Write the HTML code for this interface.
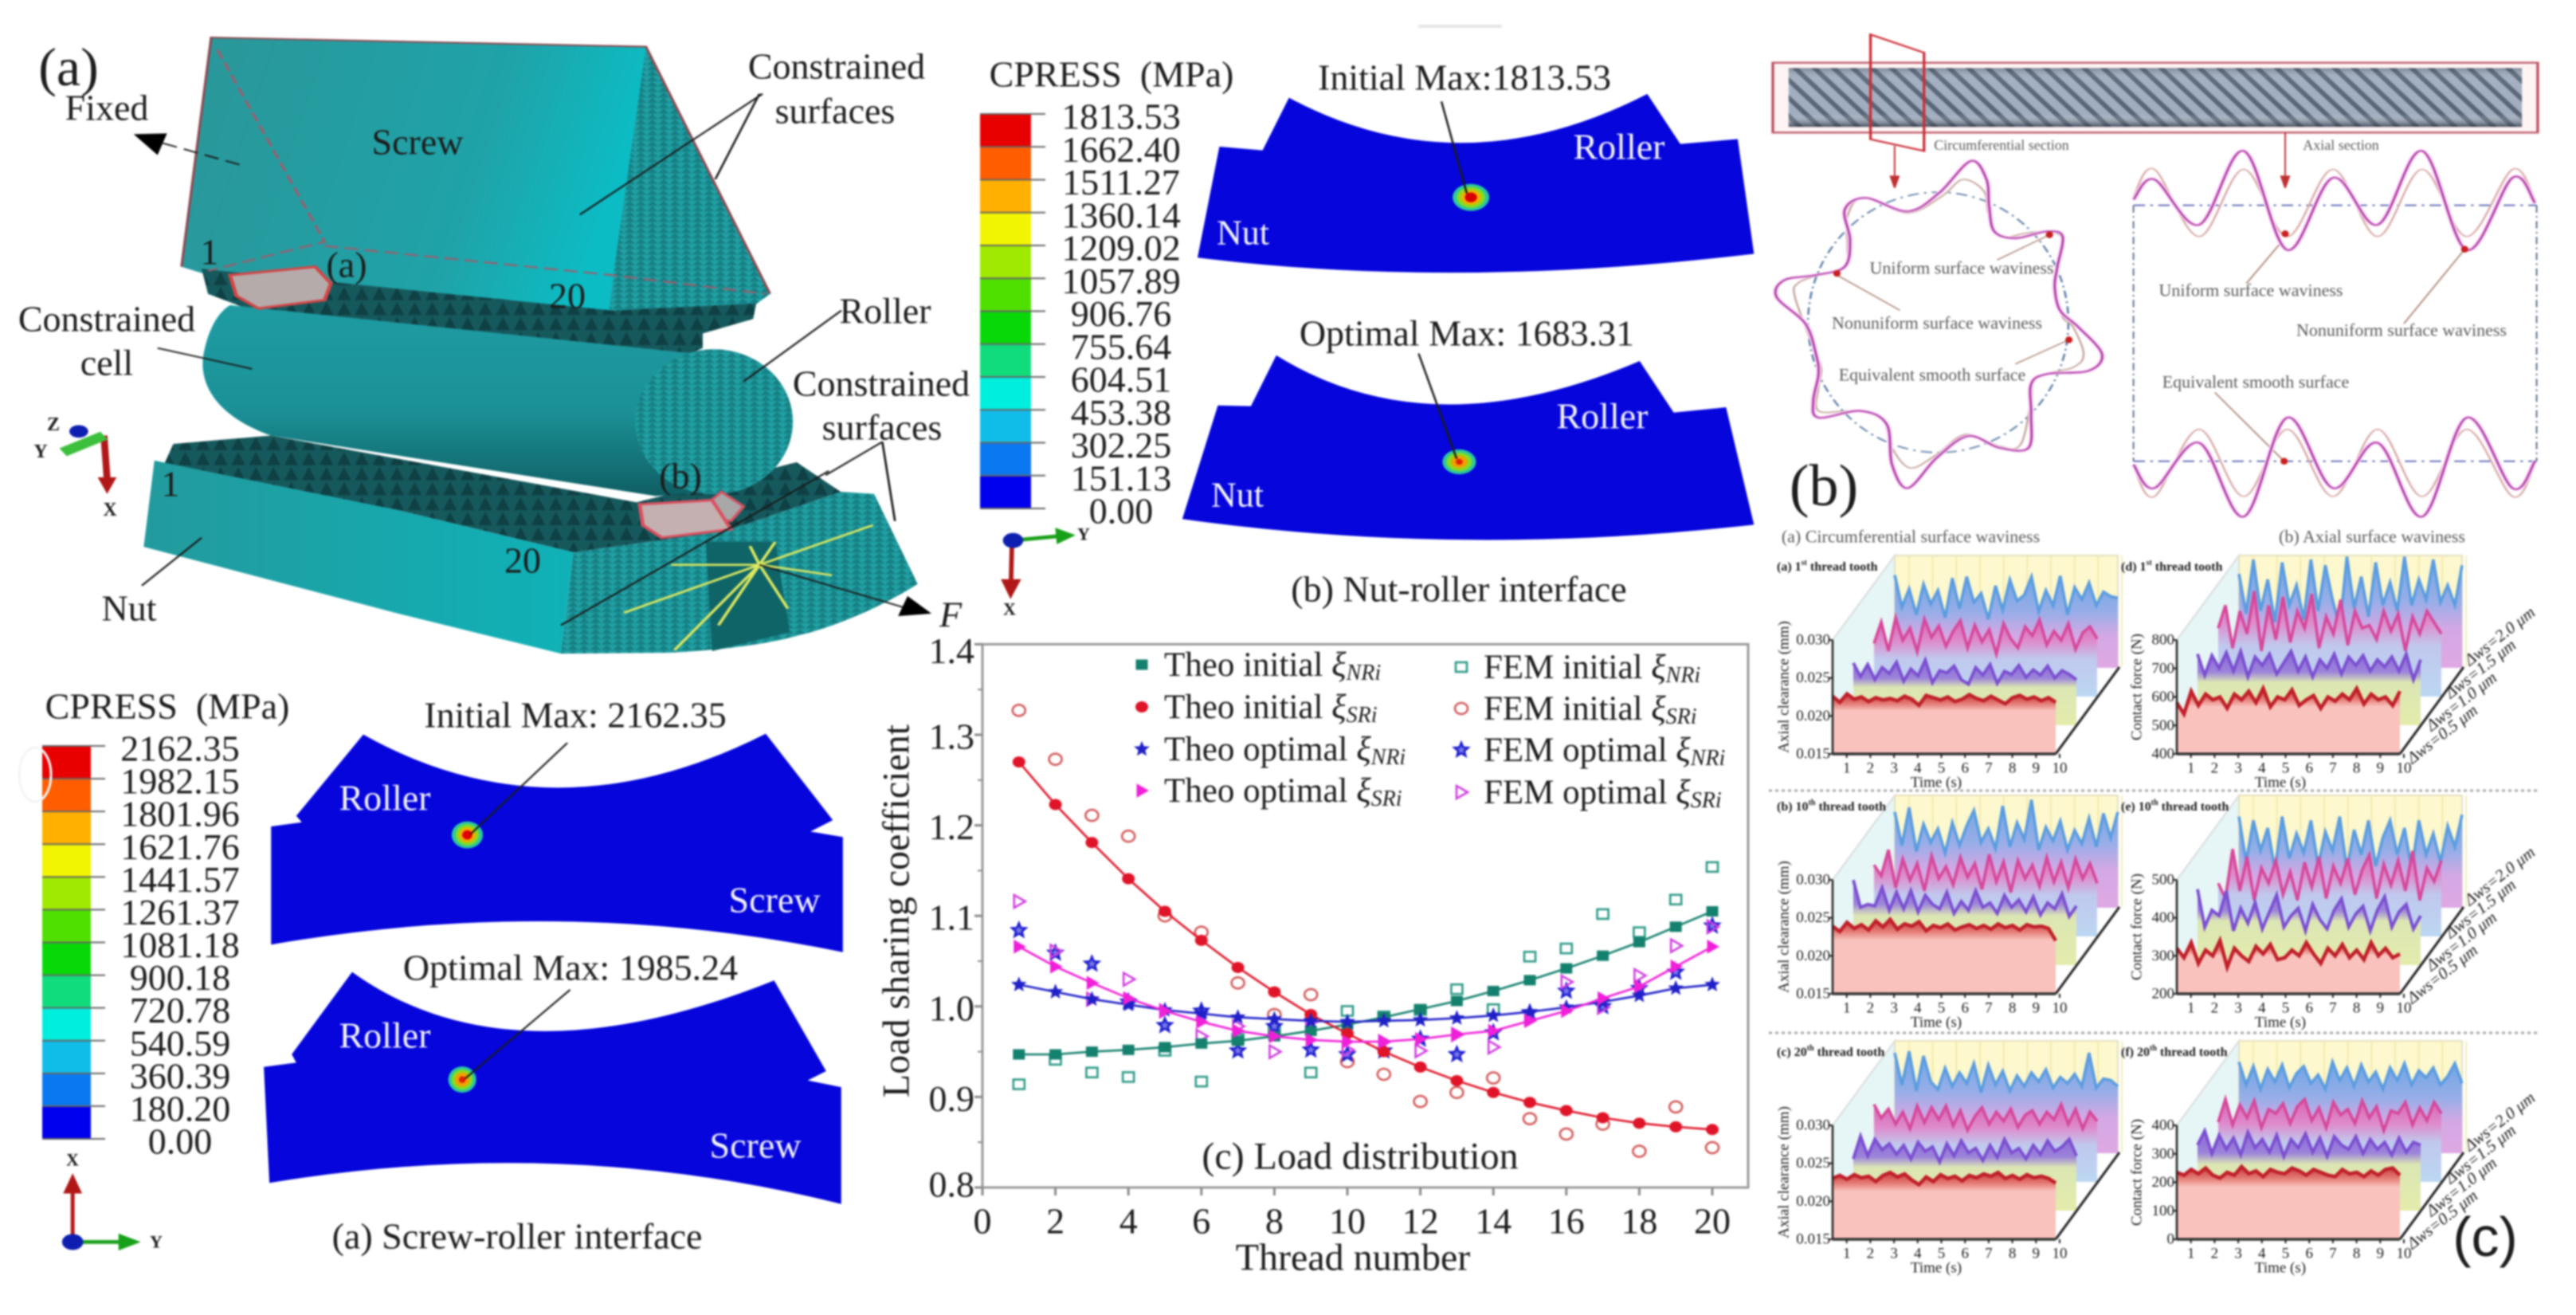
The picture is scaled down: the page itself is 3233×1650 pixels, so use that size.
<!DOCTYPE html>
<html lang="en">
<head>
<meta charset="utf-8">
<title>Roller screw FEM, surface waviness and load distribution</title>
<style>
html,body{margin:0;padding:0;background:#fff;width:3233px;height:1650px;overflow:hidden}
#root{display:block;filter:blur(1.1px);font-family:"Liberation Serif",serif}
text{fill:#1c1c1c}
.c{text-anchor:middle;dominant-baseline:central}
.f46{font-size:46px}
.w{fill:#f4f4ff}
.g{fill:#5a5a5a}
</style>
</head>
<body>
<svg id="root" xmlns="http://www.w3.org/2000/svg" width="3233" height="1650" viewBox="0 0 3233 1650">
<defs>
<linearGradient id="screwFace" x1="0" y1="0" x2="1" y2="0.2"><stop offset="0" stop-color="#2b9699"/><stop offset="0.7" stop-color="#1fa3a8"/><stop offset="1" stop-color="#0cbcc4"/></linearGradient>
<linearGradient id="rollerBody" x1="0" y1="0" x2="0" y2="1"><stop offset="0" stop-color="#1e9ca2"/><stop offset="0.55" stop-color="#1b9197"/><stop offset="1" stop-color="#0f5f64"/></linearGradient>
<linearGradient id="nutFace" x1="0" y1="0" x2="1" y2="0"><stop offset="0" stop-color="#239a9d"/><stop offset="1" stop-color="#0fb2b8"/></linearGradient>
<pattern id="meshTri" width="18" height="26" patternUnits="userSpaceOnUse"><rect width="18" height="26" fill="#21a0a4"/><path d="M0 13L9 0L18 13ZM0 26L9 13L18 26Z" fill="#168084"/></pattern>
<pattern id="teeth" width="28" height="36" patternUnits="userSpaceOnUse"><rect width="28" height="36" fill="#16595d"/><path d="M3 36L14 4L25 36Z" fill="#0e4044"/></pattern>
<pattern id="stripes" width="36.7" height="12" patternUnits="userSpaceOnUse" patternTransform="skewX(34.4)"><rect width="36.7" height="12" fill="#a0adbf"/><rect width="13" height="12" fill="#566476"/></pattern>
<linearGradient id="screwShade" x1="0" y1="0" x2="0" y2="1"><stop offset="0" stop-color="#2c3442" stop-opacity="0.3"/><stop offset="0.2" stop-color="#fff" stop-opacity="0.05"/><stop offset="0.78" stop-color="#fff" stop-opacity="0"/><stop offset="1" stop-color="#1c2432" stop-opacity="0.7"/></linearGradient>
<linearGradient id="layerBlue" x1="0" y1="0" x2="0" y2="1"><stop offset="0" stop-color="#6ea6e4"/><stop offset="0.4" stop-color="#98aee8"/><stop offset="0.65" stop-color="#d4a8e4"/><stop offset="1" stop-color="#dfa8e4"/></linearGradient>
<linearGradient id="layerPink" x1="0" y1="0" x2="0" y2="1"><stop offset="0" stop-color="#da62b4"/><stop offset="0.3" stop-color="#de8ccc"/><stop offset="0.52" stop-color="#c0c8ee"/><stop offset="1" stop-color="#bcd7f2"/></linearGradient>
<linearGradient id="layerPurple" x1="0" y1="0" x2="0" y2="1"><stop offset="0" stop-color="#8a66d8"/><stop offset="0.28" stop-color="#9c84da"/><stop offset="0.42" stop-color="#dce6b4"/><stop offset="1" stop-color="#e4ecac"/></linearGradient>
<linearGradient id="layerRed" x1="0" y1="0" x2="0" y2="1"><stop offset="0" stop-color="#c83a3c"/><stop offset="0.16" stop-color="#e47a74"/><stop offset="0.28" stop-color="#f9c2bd"/><stop offset="1" stop-color="#f9c2bd"/></linearGradient>
</defs>

<!-- (a) FEM assembly drawn in crop coordinates -->
<g transform="scale(0.791,0.523)">
<polygon points="335,90 1025,112 972,770 320,655 288,640" fill="url(#screwFace)"/>
<polygon points="1025,112 1222,705 1195,735 965,765 975,640" fill="url(#meshTri)"/>
<polygon points="320,645 972,745 1200,728 1195,765 1115,800 1115,835 1050,880 860,815 400,745 330,705" fill="url(#teeth)"/>
<polygon points="275,1065 430,1045 1010,1205 1264,1109 1334,1180 1150,1275 910,1325 632,1224 260,1115" fill="url(#teeth)"/>
<path d="M365,732 L1100,848 L1135,1180 L1040,1190 L430,1045 C345,1000 310,920 325,835 C332,790 345,750 365,732Z" fill="url(#rollerBody)"/>
<ellipse cx="1133" cy="1012" rx="125" ry="174" fill="url(#meshTri)"/>
<polygon points="245,1105 632,1224 910,1325 890,1568 632,1472 228,1312" fill="url(#nutFace)"/>
<path d="M910,1325L1150,1275L1334,1180L1387,1185L1456,1401C1390,1465 1310,1510 1270,1523C1210,1550 1120,1562 1060,1566L890,1568Z" fill="url(#meshTri)"/>
<polygon points="1120,1300 1230,1300 1253,1517 1130,1562" fill="#0f6468"/>
<g stroke="#dce860" stroke-width="5" fill="none">
<path d="M1205,1355L1385,1260M1205,1355L1065,1355M1205,1355L1320,1380M1205,1355L990,1470M1205,1355L1070,1560M1205,1355L1140,1500M1205,1355L1250,1460M1205,1355L1230,1300M1205,1355L1190,1310"/>
</g>
<polygon points="365,660 500,640 525,680 515,720 410,740 375,710" fill="#b5abab" stroke="#d44646" stroke-width="6"/>
<polygon points="1120,1210 1145,1180 1180,1215 1160,1250 1135,1245" fill="#a8a8a8" stroke="#d85060" stroke-width="5"/>
<polygon points="1015,1210 1130,1200 1160,1270 1050,1290 1020,1260" fill="#c4b0b0" stroke="#dc5060" stroke-width="6"/>
<path d="M345,120L515,580L330,650M515,590L970,660L1215,705" fill="none" stroke="#a25a6a" stroke-width="4" stroke-dasharray="22 10"/>
<path d="M288,640L335,90L1025,112L1222,705" fill="none" stroke="#8d4a52" stroke-width="4"/>
<g stroke="#1a1a1a" stroke-width="3.5" fill="none">
<path d="M1210,225L920,515M1205,225L1135,430M1335,745L1180,915M1400,1060L1310,1140M1400,1060L1420,1250M1315,1130L890,1500M250,835L400,885M320,1290L225,1405"/>
<path d="M1205,1355L1440,1460"/>
<path d="M380,395L250,340" stroke-dasharray="24 12"/>
</g>
<polygon points="1478,1472 1425,1478 1440,1430" fill="#000"/>
<polygon points="212,322 265,320 250,372" fill="#000"/>
<g>
<path d="M165,1045L170,1150" stroke="#b01818" stroke-width="11"/>
<polygon points="155,1145 185,1145 170,1185" fill="#b01818"/>
<path d="M100,1085L165,1045" stroke="#3cc03c" stroke-width="22"/>
<circle cx="125" cy="1035" r="15" fill="#0e1eb0"/>
</g>
</g>
<g>
<text class="c" x="86" y="84" font-size="68">(a)</text>
<text class="c f46" x="134" y="135">Fixed</text>
<text class="c f46" x="1050" y="83">Constrained</text>
<text class="c f46" x="1048" y="139">surfaces</text>
<text class="c f46" x="524" y="178">Screw</text>
<text class="c f46" x="134" y="400">Constrained</text>
<text class="c f46" x="134" y="455">cell</text>
<text class="c f46" x="1111" y="390">Roller</text>
<text class="c f46" x="1106" y="481">Constrained</text>
<text class="c f46" x="1107" y="536">surfaces</text>
<text class="c f46" x="162" y="763">Nut</text>
<text class="c f46" x="263" y="316">1</text>
<text class="c f46" x="435" y="332">(a)</text>
<text class="c f46" x="712" y="371">20</text>
<text class="c f46" x="214" y="607">1</text>
<text class="c f46" x="854" y="597">(b)</text>
<text class="c f46" x="656" y="703">20</text>
<text class="c f46" x="1193" y="771" font-style="italic">F</text>
<text class="c" x="67" y="533" font-size="24" font-weight="bold">Z</text>
<text class="c" x="51" y="567" font-size="24" font-weight="bold">Y</text>
<text class="c" x="138" y="640" font-size="24" font-weight="bold">X</text>
</g>

<!-- Screw-roller contact pressure -->
<g transform="translate(0,820) scale(0.7015,0.5293)">
<path d="M650,192Q990,445 1370,190L1490,395L1450,422L1508,435L1508,708Q1004,571 485,690L485,410L540,400L530,385Z" fill="#0505dc"/>
<g><ellipse cx="836" cy="430" rx="28" ry="32" fill="#2cc8a0"/><ellipse cx="836" cy="430" rx="21" ry="25" fill="#86dc20"/><ellipse cx="836" cy="430" rx="15" ry="18" fill="#f2b000"/><ellipse cx="836" cy="430" rx="9" ry="11" fill="#e00000"/></g>
<path d="M1015,212L842,428" stroke="#1a1a1a" stroke-width="3.5"/>
<path d="M630,755Q913,1025 1385,775L1478,990L1445,1012L1505,1028L1505,1305Q1007,1140 482,1255L472,980L530,970L522,950Z" fill="#0505dc"/>
<g><ellipse cx="827" cy="1010" rx="25" ry="31" fill="#2cc8a0"/><ellipse cx="827" cy="1010" rx="19" ry="24" fill="#86dc20"/><ellipse cx="827" cy="1010" rx="13" ry="17" fill="#f2a000"/><ellipse cx="827" cy="1010" rx="6" ry="8" fill="#e02000"/></g>
<path d="M1020,797L832,1008" stroke="#1a1a1a" stroke-width="3.5"/>
<g>
<path d="M130,1395L130,1270" stroke="#b01818" stroke-width="7"/><polygon points="113,1280 147,1280 130,1232" fill="#b01818"/>
<path d="M130,1395L220,1395" stroke="#18a018" stroke-width="9"/><polygon points="212,1375 212,1415 252,1395" fill="#18a018"/>
<circle cx="130" cy="1395" r="19" fill="#0e1eb0"/>
</g>
</g>
<g>
<text class="c f46" x="210" y="886" xml:space="preserve">CPRESS  (MPa)</text>
<text class="c f46" x="722" y="897">Initial Max: 2162.35</text>
<text class="c f46 w" x="483" y="1001">Roller</text>
<text class="c f46 w" x="972" y="1129">Screw</text>
<text class="c f46" x="716" y="1214">Optimal Max: 1985.24</text>
<text class="c f46 w" x="483" y="1299">Roller</text>
<text class="c f46 w" x="948" y="1437">Screw</text>
<text class="c f46" x="649" y="1551">(a) Screw-roller interface</text>
<text class="c" x="91" y="1455" font-size="22" font-weight="bold">X</text>
<text class="c" x="196" y="1558" font-size="22" font-weight="bold">Y</text>
</g>

<!-- Nut-roller contact pressure -->
<rect x="1780" y="31" width="105" height="4" fill="#e6e6e6"/>
<g transform="translate(1200,40) scale(0.6378,0.472)">
<path d="M655,175Q993,420 1360,165L1425,298L1538,285L1570,590Q979,685 475,600L518,305L603,315Z" fill="#0505dc"/>
<g><ellipse cx="1013" cy="440" rx="36" ry="36" fill="#2cc8a0"/><ellipse cx="1013" cy="440" rx="28" ry="28" fill="#86dc20"/><ellipse cx="1013" cy="440" rx="20" ry="20" fill="#f2b000"/><ellipse cx="1013" cy="440" rx="12" ry="13" fill="#d80000"/></g>
<path d="M955,185L1005,430" stroke="#1a1a1a" stroke-width="4"/>
<path d="M630,860Q933,1113 1345,875L1412,1012L1515,998L1570,1310Q994,1398 445,1295L515,993L580,995Z" fill="#0505dc"/>
<g><ellipse cx="990" cy="1143" rx="33" ry="33" fill="#2cc8a0"/><ellipse cx="990" cy="1143" rx="25" ry="25" fill="#86dc20"/><ellipse cx="990" cy="1143" rx="16" ry="17" fill="#f2a000"/><ellipse cx="990" cy="1143" rx="7" ry="8" fill="#e02000"/></g>
<path d="M910,855L985,1135" stroke="#1a1a1a" stroke-width="4"/>
<g>
<path d="M112,1352L205,1340" stroke="#18a018" stroke-width="10"/><polygon points="195,1318 198,1362 235,1338" fill="#18a018"/>
<path d="M110,1352L108,1460" stroke="#b01818" stroke-width="9"/><polygon points="88,1455 128,1455 107,1508" fill="#b01818"/>
<circle cx="112" cy="1352" r="20" fill="#0e1eb0"/>
</g>
</g>
<g>
<text class="c f46" x="1395" y="93" xml:space="preserve">CPRESS  (MPa)</text>
<text class="c f46" x="1838" y="97">Initial Max:1813.53</text>
<text class="c f46 w" x="2032" y="184">Roller</text>
<text class="c w" font-size="44" x="1560" y="292">Nut</text>
<text class="c f46" x="1841" y="418">Optimal Max: 1683.31</text>
<text class="c f46 w" x="2011" y="522">Roller</text>
<text class="c w" font-size="44" x="1553" y="621">Nut</text>
<text class="c f46" x="1831" y="739">(b) Nut-roller interface</text>
<text class="c" x="1360" y="670" font-size="22" font-weight="bold">Y</text>
<text class="c" x="1267" y="764" font-size="22" font-weight="bold">X</text>
</g>

<g id="colorbars"></g>

<!-- Waviness illustration -->
<g id="waviness" transform="translate(2200,40) scale(0.6588,0.4209)">
<rect x="34" y="86" width="1466" height="220" fill="#fff4f4"/>
<rect x="68" y="108" width="1397" height="175" fill="url(#stripes)"/>
<rect x="68" y="108" width="1397" height="175" fill="url(#screwShade)"/>
<rect x="38" y="92" width="1457" height="208" fill="none" stroke="#b85060" stroke-width="5"/>
<polygon points="224,8 326,62 326,355 224,320" fill="none" stroke="#cc2c34" stroke-width="5"/>
<g stroke="#c03030" stroke-width="3" fill="#c03030">
<path d="M270,340L270,435M1014,300L1014,435"/>
<polygon points="262,430 278,430 270,465"/><polygon points="1006,430 1022,430 1014,465"/>
</g>
<ellipse cx="353" cy="866" rx="248" ry="388" fill="none" stroke="#5f7fa8" stroke-width="4" stroke-dasharray="22 10 5 10"/>
<path d="M725,517H1493M725,1280H1493" fill="none" stroke="#5560b0" stroke-width="4" stroke-dasharray="22 10 5 10"/>
<path d="M725,517V1280M1493,517V1280" fill="none" stroke="#5f6f90" stroke-width="3" stroke-dasharray="22 10 5 10"/>
<g stroke="#a88070" stroke-width="3" fill="none">
<path d="M565,605L465,680M160,725L280,830M602,918L500,990M1005,630L940,750M1356,648L1240,870M1012,1280L880,1075"/>
</g>
</g>
<g font-size="22">
<text class="c g" font-size="18" x="2512" y="182">Circumferential section</text>
<text class="c g" font-size="18" x="2938" y="182">Axial section</text>
<text class="c g" x="2462" y="336">Uniform surface waviness</text>
<text class="c g" x="2431" y="405">Nonuniform surface waviness</text>
<text class="c g" x="2425" y="470">Equivalent smooth surface</text>
<text class="c g" x="2825" y="364">Uniform surface waviness</text>
<text class="c g" x="3014" y="414">Nonuniform surface waviness</text>
<text class="c g" x="2831" y="479">Equivalent smooth surface</text>
<text class="c g" x="2398" y="673">(a) Circumferential surface waviness</text>
<text class="c g" x="2977" y="673">(b) Axial surface waviness</text>
<text class="c" x="2289" y="610" font-size="74">(b)</text>
</g>

<!-- Load distribution chart -->
<g id="loadChart"></g>

<!-- Time-series panels -->
<g id="panels"></g>
<path d="M2220,992H3184" stroke="#a8a8a8" stroke-width="3" stroke-dasharray="4 4"/>
<path d="M2220,1296H3184" stroke="#a8a8a8" stroke-width="3" stroke-dasharray="4 4"/>
<text class="c" x="3119" y="1552" font-size="70" style="font-family:'Liberation Sans',sans-serif">(c)</text>
</svg>

<script>
/* ---------- Load distribution chart data ---------- */
const threadNumbers = [1,2,3,4,5,6,7,8,9,10,11,12,13,14,15,16,17,18,19,20];
const theoInitialNR = [0.947,0.947,0.950,0.952,0.955,0.959,0.962,0.967,0.973,0.980,0.988,0.997,1.006,1.017,1.029,1.042,1.056,1.071,1.088,1.105];
const theoInitialSR = [1.270,1.223,1.181,1.141,1.105,1.073,1.043,1.016,0.991,0.970,0.950,0.933,0.918,0.905,0.894,0.885,0.877,0.871,0.867,0.864];
const theoOptimalNR = [1.024,1.016,1.008,1.002,0.996,0.992,0.988,0.986,0.984,0.983,0.984,0.985,0.987,0.990,0.994,0.999,1.005,1.012,1.020,1.024];
const theoOptimalSR = [1.066,1.044,1.026,1.009,0.995,0.983,0.973,0.967,0.963,0.961,0.961,0.964,0.969,0.973,0.984,0.995,1.009,1.022,1.044,1.066];
const femInitialNR = [0.914,0.941,0.927,0.922,0.951,0.917,0.964,0.973,0.927,0.995,0.989,0.996,1.019,0.997,1.055,1.064,1.102,1.082,1.118,1.154];
const femInitialSR = [1.327,1.273,1.211,1.188,1.100,1.082,1.026,0.991,1.013,0.939,0.925,0.895,0.905,0.921,0.876,0.859,0.870,0.840,0.889,0.844];
const femOptimalNR = [1.084,1.059,1.047,1.005,0.979,0.995,0.951,0.978,0.952,0.947,0.951,0.964,0.947,0.971,0.993,1.017,1.000,1.020,1.038,1.089];
const femOptimalSR = [1.116,1.061,1.008,1.030,0.995,0.967,0.978,0.950,0.983,0.952,0.961,0.951,0.969,0.955,0.986,1.027,0.999,1.034,1.067,1.088];
const yTickLabels = ['0.8','0.9','1.0','1.1','1.2','1.3','1.4'];
const xTickLabels = ['0','2','4','6','8','10','12','14','16','18','20'];

/* ---------- Colorbar labels ---------- */
const screwRollerLevels = ['2162.35','1982.15','1801.96','1621.76','1441.57','1261.37','1081.18','900.18','720.78','540.59','360.39','180.20','0.00'];
const nutRollerLevels = ['1813.53','1662.40','1511.27','1360.14','1209.02','1057.89','906.76','755.64','604.51','453.38','302.25','151.13','0.00'];
const contourColors = ['#e80000','#ff5d00','#ffb000','#f2f500','#9fea00','#4fe000','#08d808','#10dc7c','#00eedd','#10bce8','#0a78f0','#0000ee'];

/* ---------- Time-series panel data ---------- */
const clearanceTicks = [30,25,20,15];
const clearanceTickLabels = ['0.030','0.025','0.020','0.015'];
const forceTicksD = [800,700,600,500,400];
const forceTicksE = [500,400,300,200];
const forceTicksF = [400,300,200,100,0];
const timeTicks = [1,2,3,4,5,6,7,8,9,10];
const wavinessLabels = ['\u0394ws=0.5 \u03bcm','\u0394ws=1.0 \u03bcm','\u0394ws=1.5 \u03bcm','\u0394ws=2.0 \u03bcm'];

const aRed=[22.6,21.8,22.9,22.2,22.5,21.9,22.4,22.1,22.3,22.0,22.6,22.2,21.4,22.7,22.4,22.1,22.5,21.9,22.2,22.8,22.3,22.0,22.6,22.1,21.6,22.4,22.7,22.2,22.5,22.0,22.4,21.8];
const aPurple=[23.2,21.4,23.0,21.0,22.6,21.8,23.3,20.8,22.4,21.5,23.6,20.6,22.2,21.9,22.8,21.0,20.4,22.6,21.6,23.0,20.5,22.1,21.7,22.9,21.3,22.3,21.6,22.8,21.2,22.2,21.7,21.0];
const aPink=[22.0,24.8,21.0,25.4,22.4,24.0,20.9,25.2,22.8,24.3,21.6,23.6,25.0,21.4,24.4,22.2,23.8,20.6,24.6,22.6,21.4,24.2,23.0,25.1,21.8,23.6,22.4,24.6,21.2,23.4,24.2,22.6];
const aBlue=[27.2,23.0,25.4,22.0,26.0,23.4,25.2,21.6,26.8,22.8,27.0,23.6,24.8,21.4,25.8,22.6,26.6,23.8,24.6,27.0,22.4,25.2,23.2,27.1,22.0,25.6,24.0,26.2,23.2,25.0,24.4,24.2];

const bRed=[23.9,23.2,24.4,23.6,24.1,23.4,24.6,23.8,24.8,23.5,24.2,23.9,24.5,23.3,24.0,23.7,24.2,23.4,23.8,24.1,23.6,24.0,23.5,24.2,23.7,24.0,23.4,24.1,23.8,23.9,23.6,22.0];
const bPurple=[26.2,22.6,23.0,22.8,25.2,22.2,24.6,22.4,24.8,22.0,24.2,23.0,22.4,24.6,21.8,23.4,22.2,24.8,22.6,23.2,21.8,24.2,22.6,23.6,22.0,24.0,21.6,23.2,22.4,24.4,21.4,22.8];
const bPink=[24.4,23.0,26.4,21.4,25.2,22.4,24.6,21.0,25.6,22.6,24.2,21.8,25.4,22.8,24.6,21.2,25.8,22.2,24.8,20.8,25.0,22.6,24.4,21.6,25.4,22.2,24.8,21.4,25.2,22.6,24.6,22.0];
const bBlue=[27.6,23.2,28.2,22.4,26.0,23.6,25.4,22.2,26.2,23.2,25.8,27.8,23.6,25.4,22.8,28.4,23.0,26.2,24.0,29.2,22.6,25.6,23.8,26.4,22.6,25.2,23.4,26.8,23.0,27.4,24.2,27.6];

const cRed=[23.0,23.4,22.9,23.5,23.1,23.3,22.6,23.4,23.8,23.2,23.6,22.8,22.2,23.2,22.6,23.5,23.0,23.3,22.7,23.4,23.1,23.6,23.3,23.8,23.0,23.4,22.9,23.5,23.1,23.3,23.0,22.4];
const cPurple=[21.8,24.8,22.2,24.4,23.0,23.8,22.4,23.6,21.8,24.0,22.8,23.4,21.4,23.8,22.2,24.2,22.6,23.2,21.6,23.6,22.0,24.4,22.6,23.2,21.8,23.6,22.4,24.2,22.8,23.4,24.4,22.2];
const cPink=[25.2,23.4,24.6,22.6,24.2,22.0,25.0,22.8,24.8,23.2,25.0,22.4,24.4,21.8,23.6,24.8,22.6,24.2,23.0,24.6,22.2,23.8,24.4,22.6,24.2,23.2,25.2,22.6,24.6,22.0,24.2,23.0];
const cBlue=[28.2,24.0,28.4,23.2,27.8,24.4,23.4,26.2,23.8,25.6,24.2,26.8,23.0,26.6,24.0,25.8,23.2,25.2,23.8,25.6,24.4,26.0,23.6,25.0,24.2,25.4,23.8,28.2,23.6,24.8,24.6,23.8];

const dRed=[580,540,620,570,610,590,600,560,610,590,620,580,630,565,600,590,625,570,590,605,560,600,585,610,590,630,575,610,590,600,570,620];
const dPurple=[650,575,645,600,655,590,660,570,640,610,650,580,620,660,590,640,570,630,600,650,580,640,610,645,590,630,605,640,590,650,560,630];
const dPink=[640,720,570,700,620,770,560,720,600,750,590,700,640,760,570,680,620,740,580,700,640,650,600,700,630,690,560,680,620,700,660,620];
const dBlue=[730,590,780,600,710,560,770,620,690,570,780,600,760,640,540,790,610,720,580,770,620,700,600,790,620,710,640,780,630,690,620,760];

const eRed=[320,295,335,280,315,300,340,270,320,300,285,325,305,330,290,295,315,300,335,305,280,320,300,330,295,315,290,335,300,320,295,305];
const ePurple=[400,300,345,330,395,290,350,310,365,295,340,385,300,330,350,290,360,320,295,345,375,300,335,355,290,345,380,300,340,360,295,330];
const ePink=[340,300,430,320,410,295,380,340,400,310,370,295,395,330,410,300,385,340,405,310,375,415,300,390,335,400,320,425,295,380,345,400];
const eBlue=[440,320,430,350,410,300,440,330,395,345,430,310,400,350,440,300,405,340,430,310,385,430,340,410,300,430,340,395,320,415,360,445];

const fRed=[235,225,245,230,250,225,215,235,225,255,230,240,220,245,235,230,250,240,225,245,235,225,220,245,230,235,220,240,225,245,250,225];
const fPurple=[230,280,200,265,215,255,195,275,220,250,205,265,190,250,220,270,205,255,190,260,230,215,260,200,250,215,240,195,255,205,240,230];
const fPink=[210,290,200,270,225,285,190,255,240,275,205,265,290,215,260,190,280,235,255,205,285,225,265,180,250,240,280,200,260,215,280,240];
const fBlue=[320,240,305,225,295,250,310,230,280,305,245,275,225,320,255,300,235,310,250,285,225,300,255,315,240,290,265,300,240,270,315,245];

/* ---------- Illustration outlines ---------- */
const ringNonuniform=[[415,385],[445,440],[450,520],[460,595],[500,615],[560,595],[590,610],[580,700],[575,760],[585,830],[620,880],[665,960],[640,1010],[560,1020],[530,1050],[530,1140],[525,1240],[470,1240],[410,1205],[350,1270],[295,1360],[265,1290],[255,1170],[205,1130],[125,1150],[115,1100],[125,1020],[120,960],[100,870],[45,790],[60,740],[120,725],[175,700],[185,620],[175,530],[215,495],[295,535],[355,480]];
const ringUniform=[[400,440],[440,475],[448,540],[470,610],[520,600],[565,595],[590,620],[582,700],[578,770],[590,850],[610,880],[630,960],[610,1000],[540,1030],[530,1100],[510,1230],[470,1235],[405,1200],[350,1260],[300,1300],[265,1240],[245,1150],[190,1130],[125,1130],[125,1060],[130,1000],[110,920],[80,790],[85,750],[125,725],[175,700],[180,640],[180,550],[210,495],[295,540],[360,490]];
const waveTopNonuniform=[[725,500],[765,440],[850,575],[935,355],[1018,650],[1105,435],[1190,575],[1275,355],[1360,650],[1447,435],[1490,510]];
const waveTopUniform=[[725,490],[765,410],[850,610],[935,410],[1018,610],[1105,410],[1190,610],[1275,410],[1360,610],[1447,410],[1490,500]];
const waveBottomNonuniform=[[725,1290],[765,1360],[850,1225],[935,1445],[1018,1150],[1105,1360],[1190,1225],[1275,1445],[1360,1150],[1447,1360],[1490,1280]];
const waveBottomUniform=[[725,1295],[765,1385],[850,1185],[935,1385],[1018,1185],[1105,1385],[1190,1185],[1275,1385],[1360,1185],[1447,1385],[1490,1290]];
const markerDots=[[565,605],[160,720],[602,918],[1014,602],[1356,648],[1012,1280]];

const NS='http://www.w3.org/2000/svg';
function mk(tag,attrs,parent,txt){
  const el=document.createElementNS(NS,tag);
  for(const k in attrs){el.setAttribute(k,attrs[k]);}
  if(txt!==undefined){el.textContent=txt;}
  parent.appendChild(el);
  return el;
}

/* ---------- Colorbars ---------- */
function drawColorbar(parent,prefix,levels,left,barW,top,bottom,labelX){
  const step=(bottom-top)/contourColors.length;
  contourColors.forEach(function(col,i){
    const seg=mk('rect',{x:left,y:top+i*step,width:barW,height:step+0.5,fill:col},parent);
    
    
  });
  levels.forEach(function(lbl,i){
    const y=top+i*step;
    const tick=mk('line',{x1:left,x2:left+barW+18,y1:y,y2:y,stroke:'#666','stroke-width':2},parent);
    
    
    const t=mk('text',{x:labelX,y:y+3,'class':'c f46'},parent,lbl);
    
    
  });
}
const cb=document.getElementById('colorbars');
drawColorbar(cb,'screw-roller',screwRollerLevels,53,61,936,1429,226);
drawColorbar(cb,'nut-roller',nutRollerLevels,1230,64,143,638,1407);
const ringMark=mk('ellipse',{cx:44,cy:972,rx:20,ry:34,fill:'none',stroke:'#f4f4f4','stroke-width':3},cb);



/* ---------- Smooth outlines ---------- */
function smoothPath(pts,closed){
  const n=pts.length;
  const at=function(i){return closed?pts[(i+n)%n]:pts[Math.max(0,Math.min(n-1,i))];};
  let d='M'+pts[0][0]+','+pts[0][1];
  const last=closed?n:n-1;
  for(let i=0;i<last;i++){
    const p0=at(i-1),p1=at(i),p2=at(i+1),p3=at(i+2);
    const c1x=p1[0]+(p2[0]-p0[0])/6,c1y=p1[1]+(p2[1]-p0[1])/6;
    const c2x=p2[0]-(p3[0]-p1[0])/6,c2y=p2[1]-(p3[1]-p1[1])/6;
    d+='C'+c1x+','+c1y+' '+c2x+','+c2y+' '+p2[0]+','+p2[1];
  }
  return closed?d+'Z':d;
}
const wav=document.getElementById('waviness');
const ringU=mk('path',{d:smoothPath(ringUniform,true),fill:'none',stroke:'#c8a8a0','stroke-width':4},wav);


const ringN=mk('path',{d:smoothPath(ringNonuniform,true),fill:'none',stroke:'#fbd0f6','stroke-width':10},wav);


const ringN2=mk('path',{d:smoothPath(ringNonuniform,true),fill:'none',stroke:'#a8389f','stroke-width':4},wav);


[waveTopUniform,waveBottomUniform].forEach(function(w){
  const p=mk('path',{d:smoothPath(w,false),fill:'none',stroke:'#d8aaa8','stroke-width':4},wav);
  
  
});
[waveTopNonuniform,waveBottomNonuniform].forEach(function(w){
  const g=mk('path',{d:smoothPath(w,false),fill:'none',stroke:'#fbd0f6','stroke-width':10},wav);
  
  
  const p=mk('path',{d:smoothPath(w,false),fill:'none',stroke:'#a8389f','stroke-width':4},wav);
  
  
});
markerDots.forEach(function(m){
  const dot=mk('ellipse',{cx:m[0],cy:m[1],rx:7,ry:10,fill:'#c82020'},wav);
  
  
});

/* ---------- Load distribution chart ---------- */
const chart=document.getElementById('loadChart');
const xAxis=function(v){return 1233+v*45.8;};
const yAxis=function(v){return 1490-(v-0.8)*1136;};
const frame=mk('rect',{x:xAxis(0),y:yAxis(1.4),width:961,height:yAxis(0.8)-yAxis(1.4),fill:'none',stroke:'#9a9a9a','stroke-width':3},chart);


yTickLabels.forEach(function(lbl){
  const v=parseFloat(lbl),y=yAxis(v);
  const tick=mk('line',{x1:xAxis(0)-10,x2:xAxis(0),y1:y,y2:y,stroke:'#8a8a8a','stroke-width':3},chart);
  
  
  if(v<1.4){
    const minor=mk('line',{x1:xAxis(0)-6,x2:xAxis(0),y1:yAxis(v+0.05),y2:yAxis(v+0.05),stroke:'#8a8a8a','stroke-width':2},chart);
    
    
  }
  const t=mk('text',{x:1223,y:y+(v===1.4?8:v===0.8?-4:2),'text-anchor':'end','dominant-baseline':'central','font-size':46},chart,lbl);
  
  
});
xTickLabels.forEach(function(lbl){
  const x=xAxis(parseFloat(lbl));
  const tick=mk('line',{x1:x,x2:x,y1:yAxis(0.8),y2:yAxis(0.8)+10,stroke:'#8a8a8a','stroke-width':3},chart);
  
  
  const t=mk('text',{x:x,y:1532,'class':'c f46'},chart,lbl);
  
  
});
const xTitle=mk('text',{x:1698,y:1578,'class':'c','font-size':48},chart,'Thread number');


const yTitle=mk('text',{x:0,y:0,'class':'c','font-size':48,transform:'translate(1125,1143) rotate(-90)'},chart,'Load sharing coefficient');


const chartCaption=mk('text',{x:1707,y:1451,'class':'c','font-size':48},chart,'(c) Load distribution');



function marker(parent,kind,x,y,col,open){
  const fill=open?'none':col;
  const sw=open?2.6:1;
  if(kind==='square'){
    return mk('rect',{x:x-7,y:y-6,width:14,height:12,fill:fill,stroke:col,'stroke-width':sw},parent);
  }
  if(kind==='circle'){
    return mk('ellipse',{cx:x,cy:y,rx:open?8:7.5,ry:open?7:6.5,fill:fill,stroke:col,'stroke-width':sw},parent);
  }
  if(kind==='star'){
    let pts='';
    for(let k=0;k<10;k++){
      const r=k%2===0?9:4;
      const a=-Math.PI/2+k*Math.PI/5;
      pts+=(x+r*Math.cos(a))+','+(y+r*Math.sin(a))+' ';
    }
    return mk('polygon',{points:pts,fill:open?'#7878e8':col,stroke:col,'stroke-width':sw},parent);
  }
  return mk('polygon',{points:(x-6)+','+(y-8)+' '+(x+8)+','+y+' '+(x-6)+','+(y+8),fill:fill,stroke:col,'stroke-width':sw},parent);
}
function drawLine(values,col,kind,name){
  const pts=values.map(function(v,i){return xAxis(threadNumbers[i])+','+yAxis(v);}).join(' ');
  const line=mk('polyline',{points:pts,fill:'none',stroke:col,'stroke-width':2.6},chart);
  
  
  values.forEach(function(v,i){
    const m=marker(chart,kind,xAxis(threadNumbers[i]),yAxis(v),col,false);
    
    
  });
}
function drawScatter(values,col,kind,name){
  values.forEach(function(v,i){
    const m=marker(chart,kind,xAxis(threadNumbers[i]),yAxis(v),col,true);
    
    
  });
}
drawScatter(femInitialNR,'#2f9a88','square','fem-initial-nr');
drawScatter(femInitialSR,'#d45a5a','circle','fem-initial-sr');
drawScatter(femOptimalNR,'#1c1cd0','star','fem-optimal-nr');
drawScatter(femOptimalSR,'#d040e0','triangle','fem-optimal-sr');
drawLine(theoInitialNR,'#14806e','square','theo-initial-nr');
drawLine(theoInitialSR,'#e01428','circle','theo-initial-sr');
drawLine(theoOptimalNR,'#2020c8','star','theo-optimal-nr');
drawLine(theoOptimalSR,'#f020d8','triangle','theo-optimal-sr');

function legendEntry(mx,tx,y,kind,col,open,word,sub){
  const m=marker(chart,kind,mx,y,col,open);
  
  
  const t=mk('text',{x:tx,y:y,'dominant-baseline':'central','font-size':43},chart);
  
  
  const a=mk('tspan',{},t,word+' ');
  
  
  const b=mk('tspan',{'font-style':'italic'},t,'\u03be');
  
  
  const c=mk('tspan',{'font-style':'italic','font-size':28,dy:10},t,sub);
  
  
}
legendEntry(1433,1461,834,'square','#14806e',false,'Theo initial','NRi');
legendEntry(1433,1461,887,'circle','#e01428',false,'Theo initial','SRi');
legendEntry(1433,1461,940,'star','#2020c8',false,'Theo optimal','NRi');
legendEntry(1433,1461,992,'triangle','#f020d8',false,'Theo optimal','SRi');
legendEntry(1834,1862,837,'square','#2f9a88',true,'FEM initial','NRi');
legendEntry(1834,1862,889,'circle','#d45a5a',true,'FEM initial','SRi');
legendEntry(1834,1862,941,'star','#1c1cd0',true,'FEM optimal','NRi');
legendEntry(1834,1862,994,'triangle','#d040e0',true,'FEM optimal','SRi');

/* ---------- Time-series panels ---------- */
const panelsRoot=document.getElementById('panels');
function drawPanel(id,x0,bottom,yMin,yMax,ticks,tickLabels,seriesRed,seriesPurple,seriesPink,seriesBlue,title,titleSup,titleRest,yLabel,yLabelX,showDepthLabels){
  const g=mk('g',{},panelsRoot);
  
  
  const W=280,H=143,DX=26,DY=36;
  const yPx=function(v){return H*(v-yMin)/(yMax-yMin);};
  const backBase=bottom-109,wallTop=bottom-249;
  const leftWall=mk('polygon',{points:x0+','+(bottom-H)+' '+(x0+78)+','+wallTop+' '+(x0+78)+','+backBase+' '+x0+','+bottom,fill:'#e6f5f6',stroke:'#d8dcdc','stroke-width':2},g);
  
  
  const backWall=mk('rect',{x:x0+78,y:wallTop,width:W,height:backBase-wallTop,fill:'#fdf8cd',stroke:'#e4e0c0','stroke-width':2},g);
  
  
  timeTicks.forEach(function(t){
    const gx=x0+78+(t-0.4)*29.7;
    const gl=mk('line',{x1:gx,x2:gx,y1:wallTop,y2:backBase,stroke:'#f0e6a8','stroke-width':1.5},g);
    
    
  });
  const layers=[
    {v:seriesBlue,fill:'url(#layerBlue)',stroke:'#5b9ce0',depth:3,name:'aws-2-0',w:3.6},
    {v:seriesPink,fill:'url(#layerPink)',stroke:'#d6489a',depth:2,name:'aws-1-5',w:3.6},
    {v:seriesPurple,fill:'url(#layerPurple)',stroke:'#7b4fd0',depth:1,name:'aws-1-0',w:3.8},
    {v:seriesRed,fill:'url(#layerRed)',stroke:'#c0202a',depth:0,name:'aws-0-5',w:4.5}
  ];
  layers.forEach(function(L){
    const ox=x0+L.depth*DX,base=bottom-L.depth*DY;
    const tr=L.v.map(function(v,i){return (ox+W*i/(L.v.length-1))+','+(base-yPx(v));});
    const area=mk('polygon',{points:ox+','+base+' '+tr.join(' ')+' '+(ox+W)+','+base,fill:L.fill},g);
    
    
    const line=mk('polyline',{points:tr.join(' '),fill:'none',stroke:L.stroke,'stroke-width':L.w},g);
    
    
  });
  const axisL=mk('line',{x1:x0,x2:x0,y1:bottom-H,y2:bottom,stroke:'#222','stroke-width':2.5},g);
  
  
  const axisB=mk('line',{x1:x0,x2:x0+W,y1:bottom,y2:bottom,stroke:'#333','stroke-width':3.5},g);
  
  
  const axisD=mk('line',{x1:x0+W,x2:x0+W+80,y1:bottom,y2:bottom-109,stroke:'#222','stroke-width':3},g);
  
  
  ticks.forEach(function(v,i){
    const y=bottom-yPx(v);
    const tk=mk('line',{x1:x0-5,x2:x0,y1:y,y2:y,stroke:'#222','stroke-width':2},g);
    
    
    const tl=mk('text',{x:x0-3,y:y,'text-anchor':'end','dominant-baseline':'central','font-size':19,fill:'#333'},g,tickLabels[i]);
    
    
  });
  timeTicks.forEach(function(t){
    const tx=x0-12+t*29.7;
    const tk=mk('line',{x1:tx,x2:tx,y1:bottom,y2:bottom+5,stroke:'#222','stroke-width':2},g);
    
    
    const tl=mk('text',{x:tx,y:bottom+18,'class':'c','font-size':19},g,String(t));
    
    
  });
  const timeT=mk('text',{x:x0+130,y:bottom+36,'class':'c','font-size':19},g,'Time (s)');
  
  
  const yT=mk('text',{x:0,y:0,'class':'c','font-size':19,transform:'translate('+yLabelX+','+(bottom-84)+') rotate(-90)'},g,yLabel);
  
  
  const tt=mk('text',{x:x0-70,y:bottom-235,'font-size':16,'font-weight':'bold','dominant-baseline':'central'},g);
  
  
  const t1=mk('tspan',{},tt,title);
  
  
  const t2=mk('tspan',{'font-size':10,dy:-5},tt,titleSup);
  
  
  const t3=mk('tspan',{dy:5},tt,' '+titleRest);
  
  
  if(showDepthLabels){
    wavinessLabels.forEach(function(lbl,i){
      const lx=x0+333+i*24,ly=bottom-25-i*41;
      const wl=mk('text',{x:0,y:0,'class':'c','font-size':21,'font-style':'italic',fill:'#555',transform:'translate('+lx+','+ly+') rotate(-38)'},g,lbl);
      
      
    });
  }
}
drawPanel('a',2300,946,15,30,clearanceTicks,clearanceTickLabels,aRed,aPurple,aPink,aBlue,'(a) 1','st','thread tooth','Axial clearance (mm)',2239,false);
drawPanel('d',2732,946,400,800,forceTicksD,forceTicksD.map(String),dRed,dPurple,dPink,dBlue,'(d) 1','st','thread tooth','Contact force (N)',2682,true);
drawPanel('b',2300,1247,15,30,clearanceTicks,clearanceTickLabels,bRed,bPurple,bPink,bBlue,'(b) 10','th','thread tooth','Axial clearance (mm)',2239,false);
drawPanel('e',2732,1247,200,500,forceTicksE,forceTicksE.map(String),eRed,ePurple,ePink,eBlue,'(e) 10','th','thread tooth','Contact force (N)',2682,true);
drawPanel('c',2300,1555,15,30,clearanceTicks,clearanceTickLabels,cRed,cPurple,cPink,cBlue,'(c) 20','th','thread tooth','Axial clearance (mm)',2239,false);
drawPanel('f',2732,1555,0,400,forceTicksF,forceTicksF.map(String),fRed,fPurple,fPink,fBlue,'(f) 20','th','thread tooth','Contact force (N)',2682,true);
</script>
</body>
</html>
